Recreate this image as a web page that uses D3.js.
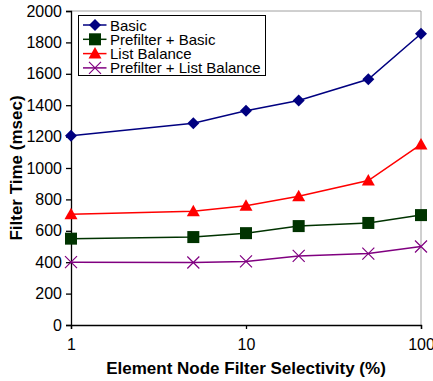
<!DOCTYPE html>
<html>
<head>
<meta charset="utf-8">
<script src="https://cdn.jsdelivr.net/npm/d3@7"></script>
<style>
  body { margin: 0; background: #fff; }
  text { font-family: "Liberation Sans", Arial, sans-serif; }
</style>
</head>
<body>
<svg id="chart" width="433" height="381"></svg>
<script>
// selectivity (%) on a log axis
const selectivity = [1, 5, 10, 20, 50, 100];

const basic = [1205, 1285, 1365, 1430, 1565, 1855];
const prefilterBasic = [550, 560, 585, 630, 650, 700];
const listBalance = [705, 725, 760, 820, 920, 1150];
const prefilterListBalance = [400, 398, 405, 440, 455, 500];

const seriesNames = ['Basic', 'Prefilter + Basic', 'List Balance', 'Prefilter + List Balance'];
const yTicks = [0, 200, 400, 600, 800, 1000, 1200, 1400, 1600, 1800, 2000];
const xTicks = [1, 10, 100];

const series = [
  { name: seriesNames[0], values: basic, color: '#000080', marker: 'diamond' },
  { name: seriesNames[1], values: prefilterBasic, color: '#003300', marker: 'square' },
  { name: seriesNames[2], values: listBalance, color: '#ff0000', marker: 'triangle' },
  { name: seriesNames[3], values: prefilterListBalance, color: '#800080', marker: 'cross' },
];

const svg = d3.select('#chart');
const margin = { left: 71, right: 12, top: 11, bottom: 56 };
const W = 433, H = 381;
const font = '"Liberation Sans", Arial, sans-serif';

const x = d3.scaleLog().domain([1, 100]).range([margin.left, W - margin.right]);
const y = d3.scaleLinear().domain([0, 2000]).range([H - margin.bottom, margin.top]);

// gray frame on top and right
svg.append('path')
  .attr('d', `M${x(1)},${y(2000)}H${x(100)}V${y(0)}`)
  .attr('fill', 'none')
  .attr('stroke', '#a0a0a0')
  .attr('stroke-width', 1);

const yAxis = svg.append('g')
  .attr('transform', `translate(${x(1)},0)`)
  .call(d3.axisLeft(y).tickValues(yTicks).tickSize(5).tickPadding(4).tickFormat(d3.format('d')));

const xAxis = svg.append('g')
  .attr('transform', `translate(0,${y(0)})`)
  .call(d3.axisBottom(x).tickValues(xTicks).tickSize(4).tickPadding(10).tickFormat(d3.format('d')));

[yAxis, xAxis].forEach(g => {
  g.select('.domain').attr('stroke', '#000').attr('stroke-width', 1.3);
  g.selectAll('.tick line').attr('stroke', '#000').attr('stroke-width', 1.3);
  g.selectAll('.tick text').attr('font-size', 16).attr('fill', '#000').attr('font-family', font);
});

svg.append('text')
  .attr('x', (x(1) + x(100)) / 2)
  .attr('y', 374)
  .attr('text-anchor', 'middle')
  .attr('font-size', 17)
  .attr('font-weight', 'bold')
  .text('Element Node Filter Selectivity (%)');

svg.append('text')
  .attr('transform', `translate(22,${(y(0) + y(2000)) / 2}) rotate(-90)`)
  .attr('text-anchor', 'middle')
  .attr('font-size', 17)
  .attr('font-weight', 'bold')
  .text('Filter Time (msec)');

function drawMarker(g, type, color) {
  if (type === 'diamond') {
    g.append('path').attr('d', 'M0,-6L6,0L0,6L-6,0Z').attr('fill', color);
  } else if (type === 'square') {
    g.append('rect').attr('x', -6).attr('y', -6).attr('width', 12).attr('height', 12).attr('fill', color);
  } else if (type === 'triangle') {
    g.append('path').attr('d', 'M0,-6.5L6.5,5L-6.5,5Z').attr('fill', color);
  } else {
    g.append('path').attr('d', 'M-6,-6L6,6M-6,6L6,-6').attr('stroke', color).attr('stroke-width', 1.2).attr('fill', 'none');
  }
}

const line = d3.line().x(d => x(d[0])).y(d => y(d[1]));

series.forEach(s => {
  const pts = selectivity.map((v, i) => [v, s.values[i]]);
  svg.append('path')
    .attr('d', line(pts))
    .attr('fill', 'none')
    .attr('stroke', s.color)
    .attr('stroke-width', 1.5);
  pts.forEach(p => {
    const g = svg.append('g').attr('transform', `translate(${x(p[0])},${y(p[1])})`);
    drawMarker(g, s.marker, s.color);
  });
});

// legend
const legend = svg.append('g').attr('transform', 'translate(78.5,15.5)');
legend.append('rect')
  .attr('width', 187).attr('height', 60)
  .attr('fill', '#fff').attr('stroke', '#000').attr('stroke-width', 1);
series.forEach((s, i) => {
  const row = legend.append('g').attr('transform', `translate(0,${9.5 + i * 14.3})`);
  row.append('line').attr('x1', 4.5).attr('x2', 28).attr('stroke', s.color).attr('stroke-width', 1.5);
  const m = row.append('g').attr('transform', 'translate(16.5,0)');
  drawMarker(m, s.marker, s.color);
  row.append('text').attr('x', 31.5).attr('y', 5.5).attr('font-size', 15).text(s.name);
});
</script>
</body>
</html>
